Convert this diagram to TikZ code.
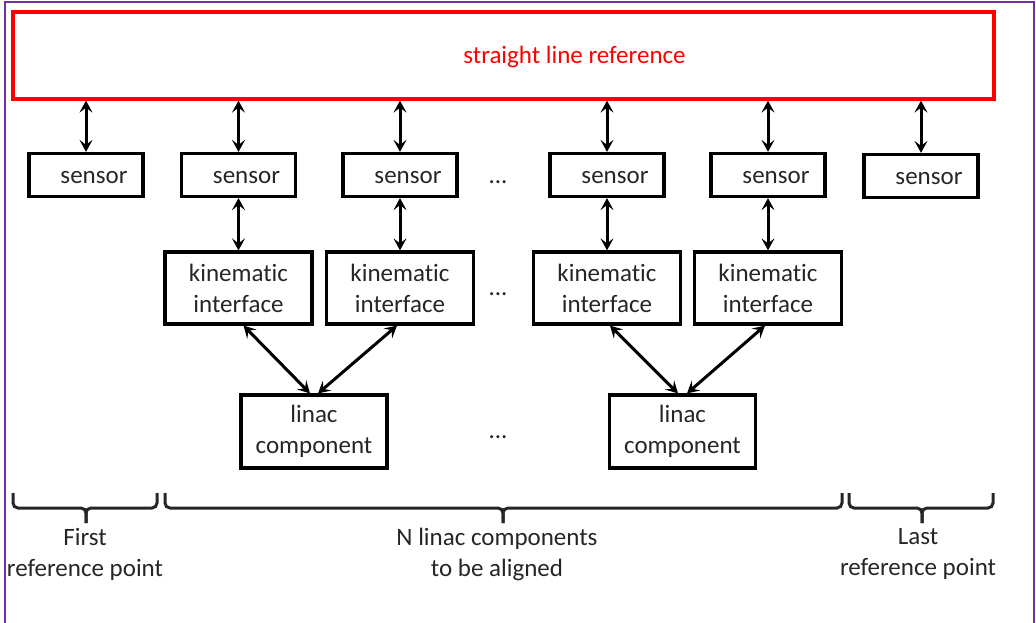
\documentclass[tikz,border=0pt]{standalone}
\usepackage{fontspec}
\setmainfont{Carlito}[Ligatures=NoCommon]
\usetikzlibrary{arrows.meta}
\definecolor{framepurple}{RGB}{112,48,160}

\begin{document}
\begin{tikzpicture}[x=1pt,y=-1pt,>={Stealth[length=12pt,width=13pt,inset=5pt]},
  every node/.style={font=\fontsize{25}{31}\selectfont,text=black!85},
  box/.style={draw,line width=3.2pt,inner sep=0pt},
  sensorbox/.style={box,minimum width=114pt,minimum height=43pt,text height=16pt,text depth=0pt},
  kinbox/.style={box,align=center,minimum width=147pt,minimum height=72pt},
  link/.style={<->,line width=3pt},
  bracket/.style={line width=3pt,black!85,rounded corners=5pt}]
\useasboundingbox (0,0) rectangle (1036,623);
\draw[framepurple,line width=2.8pt] (5,640) -- (5,2) -- (1034,2) -- (1034,640);
\node[box,draw=red,minimum width=981pt,minimum height=87pt] (ref) at (503.5,55.5) {};
\node[text=red] (reftext) at (574.5,57) {straight line reference};
\foreach \n/\x/\y in {1/86/175,2/238.5/175,3/400/175,4/607/175,5/768/175,6/921/176} {
  \node[sensorbox] (s\n) at (\x,\y) {\hspace*{16pt}sensor};
  \draw[link] (s\n.north |- ref.south) -- (s\n.north);
}
\foreach \n/\x in {1/238.5,2/400,3/607,4/768}
  \node[kinbox] (k\n) at (\x,288) {kinematic\\interface};
\foreach \s/\k in {2/1,3/2,4/3,5/4}
  \draw[link] (s\s.south) -- (k\k.north);
\node[kinbox,minimum width=146pt,minimum height=73pt] (l1) at (314,431.5) {linac\\component};
\node[kinbox,minimum width=146pt,minimum height=73pt] (l2) at (682.5,431.5) {linac\\component};
\draw[link] ([xshift=5pt]k1.south) -- ([xshift=-4pt]l1.north);
\draw[link] ([xshift=-3pt]k2.south) -- ([xshift=4pt]l1.north);
\draw[link] ([xshift=3pt]k3.south) -- ([xshift=-4.5pt]l2.north);
\draw[link] ([xshift=-3pt]k4.south) -- ([xshift=4.5pt]l2.north);
\foreach \n/\y in {1/182,2/294,3/437}
  \node[inner sep=0pt] (dots\n) at (498,\y) {...};
\foreach \xa/\xm/\xb in {13/86/157,165/503/842,849/922/993} {
  \draw[bracket] (\xa,493) |- (\xm,508) -- (\xm,523);
  \draw[bracket] (\xb,493) |- (\xm,508) -- (\xm,523);
}
\node[align=center] (first) at (85,554) {First\\reference point};
\node[align=center] (middle) at (497,554) {N linac components\\to be aligned};
\node[align=center] (last) at (918,554) {Last\\reference point};
\end{tikzpicture}
\end{document}
